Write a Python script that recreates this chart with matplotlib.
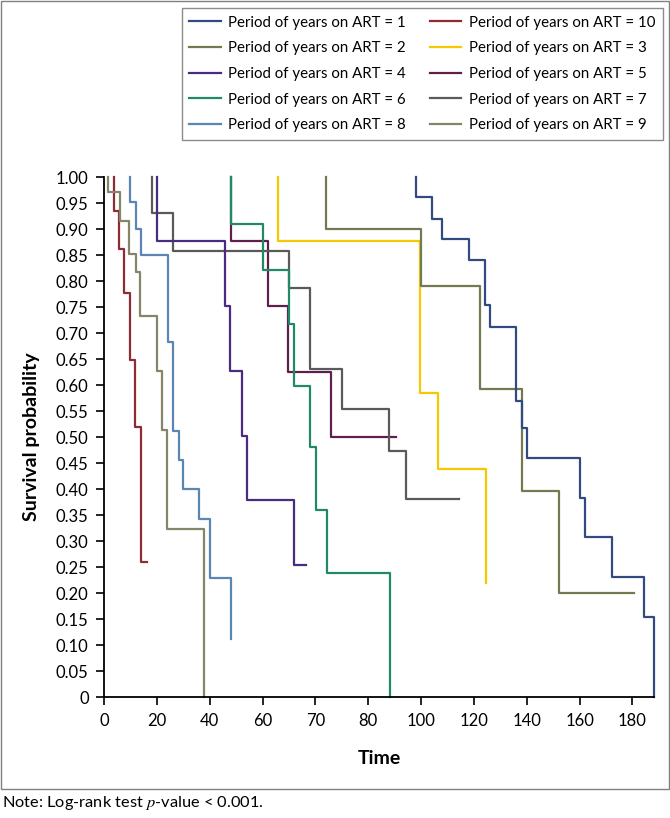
import numpy as np
import matplotlib
matplotlib.use("Agg")
import matplotlib.pyplot as plt
from matplotlib.patches import Rectangle

plt.rcParams['font.family'] = ['Lato', 'DejaVu Sans']
plt.rcParams['mathtext.fontset'] = 'stix'

# x positions follow the evenly spaced ticks (one tick every 20 units)
tick_pos = [0, 20, 40, 60, 80, 100, 120, 140, 160, 180, 200]
tick_labels = ['0', '20', '40', '60', '70', '80', '100', '120', '140', '160', '180']
y_ticks = [0, 0.05, 0.10, 0.15, 0.20, 0.25, 0.30, 0.35, 0.40, 0.45, 0.50,
           0.55, 0.60, 0.65, 0.70, 0.75, 0.80, 0.85, 0.90, 0.95, 1.00]
y_tick_labels = ['0'] + ['%.2f' % v for v in y_ticks[1:]]

# event times, survival after each event, last follow-up time
art1_t = [118.1, 124.1, 128.1, 138.3, 144.3, 146.2, 156.1, 158.2, 160.3, 180.3, 182.2, 192.3, 204.3, 208.3]
art1_s = [0.962, 0.92, 0.881, 0.84, 0.754, 0.713, 0.570, 0.518, 0.461, 0.384, 0.309, 0.232, 0.155, 0.0]
art1_end = 208.3

art2_t = [84.1, 120.1, 142.2, 158.2, 172.1]
art2_s = [0.901, 0.79, 0.593, 0.397, 0.20]
art2_end = 200.5

art3_t = [66.0, 119.7, 126.3, 144.6]
art3_s = [0.877, 0.585, 0.439, 0.22]
art3_end = 144.6

art4_t = [19.9, 45.8, 47.7, 52.1, 54.0, 72.1]
art4_s = [0.878, 0.752, 0.628, 0.502, 0.379, 0.254]
art4_end = 76.5

art5_t = [48.0, 62.2, 69.8, 86.0]
art5_s = [0.878, 0.752, 0.626, 0.501]
art5_end = 110.5

art6_t = [48.0, 60.1, 70.2, 72.1, 78.0, 80.2, 84.3, 108.1]
art6_s = [0.911, 0.822, 0.718, 0.599, 0.481, 0.36, 0.24, 0.0]
art6_end = 108.1

art7_t = [18.1, 26.0, 70.2, 78.0, 90.0, 108.0, 114.3]
art7_s = [0.931, 0.859, 0.787, 0.631, 0.554, 0.474, 0.381]
art7_end = 134.2

art8_t = [9.8, 12.0, 13.9, 24.1, 26.3, 28.2, 30.0, 36.0, 40.2, 48.1]
art8_s = [0.953, 0.90, 0.851, 0.683, 0.513, 0.456, 0.40, 0.342, 0.229, 0.113]
art8_end = 48.1

art9_t = [1.6, 6.1, 9.6, 12.0, 13.6, 19.9, 21.8, 23.7, 37.9]
art9_s = [0.972, 0.915, 0.852, 0.818, 0.733, 0.628, 0.514, 0.323, 0.0]
art9_end = 37.9

art10_t = [3.8, 5.8, 7.7, 9.8, 11.7, 13.9]
art10_s = [0.936, 0.863, 0.778, 0.649, 0.519, 0.261]
art10_end = 16.2

curves = {
    1: (art1_t, art1_s, art1_end, '#324a7f'),
    2: (art2_t, art2_s, art2_end, '#737a50'),
    3: (art3_t, art3_s, art3_end, '#f5c800'),
    4: (art4_t, art4_s, art4_end, '#4b2a82'),
    5: (art5_t, art5_s, art5_end, '#5e1f4f'),
    6: (art6_t, art6_s, art6_end, '#218a62'),
    7: (art7_t, art7_s, art7_end, '#5a5a5a'),
    8: (art8_t, art8_s, art8_end, '#5b86b3'),
    9: (art9_t, art9_s, art9_end, '#85856a'),
    10: (art10_t, art10_s, art10_end, '#8e2c33'),
}

fig = plt.figure(figsize=(6.7, 8.18), dpi=100)
ax = fig.add_axes([104 / 670, 1 - 697.3 / 818, (654.3 - 104) / 670, (697.3 - 177.3) / 818])

lines = {}
for k in [3, 5, 10, 9, 8, 7, 4, 6, 2, 1]:
    t, s, end, col = curves[k]
    x = list(t) + [end]
    y = [1.0] + list(s)
    ln, = ax.step(x, y, where='pre', color=col, lw=1.6, clip_on=False,
                  label='Period of years on ART = %d' % k)
    lines[k] = ln

ax.set_xlim(0, 208.3)
ax.set_ylim(0, 1.0)
ax.set_xticks(tick_pos)
ax.set_xticklabels(tick_labels)
ax.set_yticks(y_ticks)
ax.set_yticklabels(y_tick_labels)
ax.tick_params(labelsize=12, length=6, width=1.2, direction='out', pad=5)
for side in ['top', 'right']:
    ax.spines[side].set_visible(False)
for side in ['left', 'bottom']:
    ax.spines[side].set_linewidth(1.3)

fig.text(32 / 670, 1 - 437 / 818, 'Survival probability', rotation=90,
         ha='center', va='center', fontsize=14, fontweight='bold')
fig.text(379 / 670, 1 - 759 / 818, 'Time', ha='center', va='center',
         fontsize=14, fontweight='bold')

order = [1, 2, 4, 6, 8, 10, 3, 5, 7, 9]
leg = fig.legend([lines[k] for k in order], [lines[k].get_label() for k in order],
                 ncol=2, loc='upper left', bbox_to_anchor=(182 / 670, 1 - 8 / 818),
                 bbox_transform=fig.transFigure, borderaxespad=0, fontsize=10.8,
                 handlelength=2.07, handletextpad=0.53, columnspacing=1.6,
                 labelspacing=0.78, borderpad=0.5, fancybox=False, framealpha=1)
leg.get_frame().set_edgecolor('#8c8c8c')
leg.get_frame().set_linewidth(1.0)

fig.patches.append(Rectangle((1 / 670, 1 - 789 / 818), 668 / 670, 788 / 818,
                             transform=fig.transFigure, fill=False,
                             edgecolor='#808080', lw=1.0))
fig.text(2 / 670, 1 - 803 / 818, 'Note: Log-rank test $p$-value < 0.001.',
         ha='left', va='center', fontsize=11.8)

fig.savefig('out.png', dpi=100)
